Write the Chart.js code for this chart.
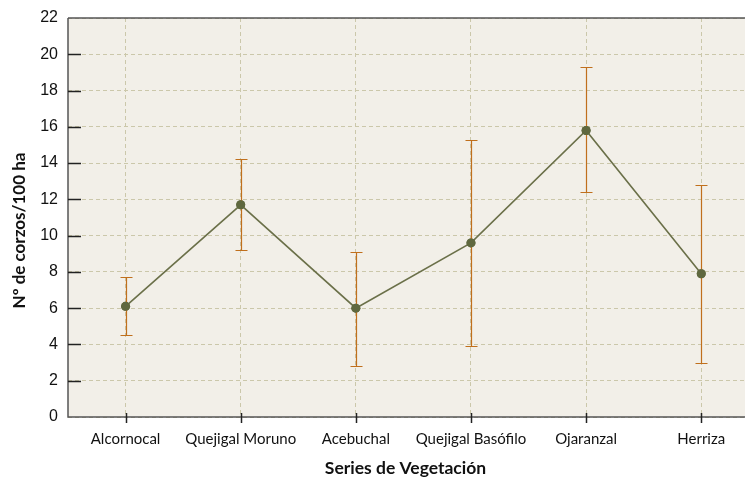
<!DOCTYPE html>
<html>
<head>
<meta charset="utf-8">
<script src="https://cdn.jsdelivr.net/npm/chart.js@4/dist/chart.umd.min.js"></script>
<style>
  html, body { margin: 0; padding: 0; background: #ffffff; }
  #wrap { width: 745px; height: 477px; position: relative; }
</style>
</head>
<body>
<div id="wrap"><canvas id="c" width="745" height="477"></canvas></div>
<script>
// Roe deer density (individuals per 100 ha) by vegetation series
const categories = ['Alcornocal', 'Quejigal Moruno', 'Acebuchal', 'Quejigal Basófilo', 'Ojaranzal', 'Herriza'];
const means = [6.1, 11.7, 6.0, 9.6, 15.8, 7.9];
const upper = [7.7, 14.2, 9.1, 15.3, 19.3, 12.8];
const lower = [4.5, 9.2, 2.8, 3.9, 12.4, 3.0];
const yTicks = [0, 2, 4, 6, 8, 10, 12, 14, 16, 18, 20, 22];
const xTitle = 'Series de Vegetación';
const yTitle = 'Nº de corzos/100 ha';

const points = means.map((v, i) => ({ x: i, y: v }));

// Plot background, frame, inner tick marks, error bars and axis titles
const decor = {
  id: 'decor',
  beforeDraw(chart) {
    const { ctx, chartArea: a } = chart;
    ctx.save();
    ctx.fillStyle = '#f2efe8';
    ctx.fillRect(a.left, a.top, a.right - a.left, a.bottom - a.top);
    ctx.restore();
  },
  afterDatasetsDraw(chart) {
    const { ctx, scales } = chart;
    const xs = scales.x, ys = scales.y;
    ctx.save();
    ctx.strokeStyle = '#c06f1c';
    ctx.lineWidth = 1.2;
    categories.forEach((c, i) => {
      const px = Math.round(xs.getPixelForValue(i)) + 0.5;
      const yt = Math.round(ys.getPixelForValue(upper[i])) + 0.5;
      const yb = Math.round(ys.getPixelForValue(lower[i])) + 0.5;
      ctx.beginPath();
      ctx.moveTo(px, yt); ctx.lineTo(px, yb);
      ctx.moveTo(px - 6, yt); ctx.lineTo(px + 6, yt);
      ctx.moveTo(px - 6, yb); ctx.lineTo(px + 6, yb);
      ctx.stroke();
    });
    ctx.restore();
  },
  afterDraw(chart) {
    const { ctx, chartArea: a, scales } = chart;
    const xs = scales.x, ys = scales.y;
    ctx.save();
    // markers above the error bars
    const meta = chart.getDatasetMeta(0);
    ctx.fillStyle = '#5f683f';
    meta.data.forEach(pt => {
      ctx.beginPath();
      ctx.arc(pt.x, pt.y, 4.5, 0, Math.PI * 2);
      ctx.fill();
    });
    // frame
    ctx.strokeStyle = '#555555';
    ctx.lineWidth = 1.5;
    ctx.beginPath();
    ctx.moveTo(a.left, a.top); ctx.lineTo(a.right, a.top);
    ctx.moveTo(a.left, a.top); ctx.lineTo(a.left, a.bottom);
    ctx.lineTo(a.right, a.bottom);
    ctx.stroke();
    // y tick marks (inside)
    ctx.strokeStyle = '#222222';
    yTicks.forEach(v => {
      if (v === 0 || v === 22) return;
      const py = Math.round(ys.getPixelForValue(v)) + 0.5;
      ctx.beginPath();
      ctx.moveTo(a.left, py); ctx.lineTo(a.left + 13, py);
      ctx.stroke();
    });
    // x tick marks (crossing the axis)
    categories.forEach((c, i) => {
      const px = Math.round(xs.getPixelForValue(i)) + 0.5;
      ctx.beginPath();
      ctx.moveTo(px, a.bottom - 4); ctx.lineTo(px, a.bottom + 6);
      ctx.stroke();
    });
    // axis titles
    ctx.fillStyle = '#111111';
    ctx.font = 'bold 17.5px Lato';
    ctx.textAlign = 'center';
    ctx.textBaseline = 'alphabetic';
    ctx.fillText(xTitle, 405.5, 474);
    ctx.translate(25, 230.5);
    ctx.rotate(-Math.PI / 2);
    ctx.font = 'bold 17px Lato';
    ctx.fillText(yTitle, 0, 0);
    ctx.restore();
  }
};

new Chart(document.getElementById('c'), {
  type: 'line',
  data: {
    datasets: [{
      data: points,
      borderColor: '#6b7049',
      borderWidth: 1.6,
      pointRadius: 4.5,
      pointBackgroundColor: '#5f683f',
      pointBorderWidth: 0,
      tension: 0,
      fill: false
    }]
  },
  options: {
    responsive: false,
    animation: false,
    devicePixelRatio: 1,
    layout: { autoPadding: false, padding: { top: 18, right: 0, bottom: 0, left: 0 } },
    plugins: { legend: { display: false }, tooltip: { enabled: false } },
    scales: {
      x: {
        type: 'linear',
        min: -0.5,
        max: 5.38,
        afterBuildTicks(s) { s.ticks = categories.map((c, i) => ({ value: i })); },
        afterFit(s) { s.height = 60; s.paddingLeft = 0; s.paddingRight = 0; },
        border: { display: false, dash: [4, 3] },
        grid: { color: '#cbc7aa', lineWidth: 1, drawTicks: false },
        ticks: {
          padding: 13,
          color: '#111111',
          font: { family: 'Lato', size: 15 },
          maxRotation: 0,
          autoSkip: false,
          callback: v => categories[v] ?? ''
        }
      },
      y: {
        min: 0,
        max: 22,
        afterBuildTicks(s) { s.ticks = yTicks.map(v => ({ value: v })); },
        afterFit(s) { s.width = 68; s.paddingTop = 0; s.paddingBottom = 0; },
        border: { display: false, dash: [4, 3] },
        grid: { color: '#cbc7aa', lineWidth: 1, drawTicks: false },
        ticks: {
          padding: 10,
          color: '#111111',
          font: { family: 'Liberation Sans', size: 16 }
        }
      }
    }
  },
  plugins: [decor]
});
</script>
</body>
</html>
